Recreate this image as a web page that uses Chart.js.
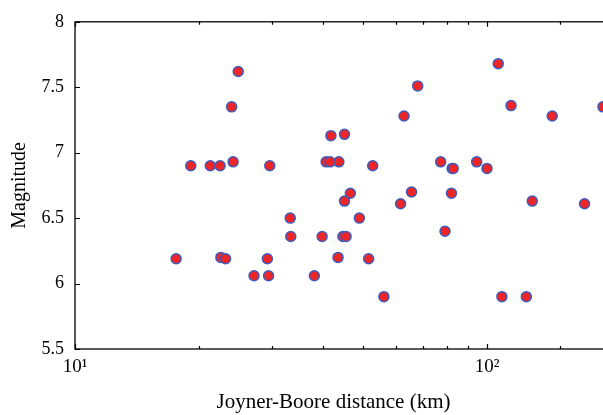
<!DOCTYPE html>
<html><head><meta charset="utf-8">
<script src="https://cdn.jsdelivr.net/npm/chart.js@4.4.1/dist/chart.umd.min.js"></script>
<style>
html,body{margin:0;padding:0;overflow:hidden;background:#fff;width:603px;height:415px}
#wrap{position:absolute;left:0;top:0;width:640px;height:415px}
</style>
</head><body><div id="wrap"><canvas id="c" width="640" height="415"></canvas></div>
<script>
const distances = [17.6, 19.1, 21.3, 22.5, 22.6, 23.2, 24.0, 24.2, 24.9, 27.2, 29.5, 29.3, 29.7, 33.3, 33.4, 38.1, 39.8, 40.7, 41.6, 41.8, 43.5, 43.7, 44.7, 45.1, 45.1, 45.5, 46.6, 49.0, 51.6, 52.8, 56.2, 61.7, 62.9, 65.6, 67.9, 77.2, 79.1, 82.0, 82.3, 82.8, 94.4, 100, 106.5, 108.7, 114.4, 124.6, 128.8, 144, 172.5, 191.2];
const magnitudes = [6.19, 6.90, 6.90, 6.90, 6.20, 6.19, 7.35, 6.93, 7.62, 6.06, 6.06, 6.19, 6.90, 6.50, 6.36, 6.06, 6.36, 6.93, 6.93, 7.13, 6.20, 6.93, 6.36, 7.14, 6.63, 6.36, 6.69, 6.50, 6.19, 6.90, 5.90, 6.61, 7.28, 6.70, 7.51, 6.93, 6.40, 6.69, 6.88, 6.88, 6.93, 6.88, 7.68, 5.90, 7.36, 5.90, 6.63, 7.28, 6.61, 7.35];
const xTickLabels = {10: '10\u00B9', 100: '10\u00B2'};
const xTitle = 'Joyner-Boore distance (km)';
const yTitle = 'Magnitude';
const xRange = [10, 200];
const yRange = [5.5, 8];

const FONT = "'Liberation Serif', 'Times New Roman', serif";

const boxTicks = {
  id: 'boxTicks',
  afterDraw(chart) {
    const ctx = chart.ctx;
    const a = chart.chartArea;
    const xs = chart.scales.x, ys = chart.scales.y;
    ctx.save();
    ctx.strokeStyle = '#000';
    ctx.lineWidth = 1.3;
    ctx.strokeRect(a.left, a.top, a.right - a.left, a.bottom - a.top);
    ctx.lineWidth = 1.2;
    ctx.beginPath();
    xs.ticks.forEach(t => {
      const px = Math.round(xs.getPixelForValue(t.value)) + 0.5;
      const major = xTickLabels[t.value] !== undefined;
      const len = major ? 5 : 3;
      ctx.moveTo(px, a.bottom); ctx.lineTo(px, a.bottom - len);
      ctx.moveTo(px, a.top); ctx.lineTo(px, a.top + len);
    });
    ys.ticks.forEach(t => {
      const py = Math.round(ys.getPixelForValue(t.value)) + 0.5;
      ctx.moveTo(a.left, py); ctx.lineTo(a.left + 5, py);
      ctx.moveTo(a.right, py); ctx.lineTo(a.right - 5, py);
    });
    ctx.stroke();
    // x axis title
    ctx.fillStyle = '#000';
    ctx.font = "21px " + FONT;
    ctx.textAlign = 'center';
    ctx.textBaseline = 'alphabetic';
    ctx.fillText(xTitle, 333.5, 408);
    ctx.restore();
  }
};

new Chart(document.getElementById('c'), {
  type: 'scatter',
  data: {
    datasets: [{
      label: 'Events',
      data: distances.map((d, i) => ({x: d, y: magnitudes[i]})),
      pointRadius: 5,
      pointHoverRadius: 5,
      backgroundColor: '#ee2526',
      borderColor: '#3f5cbc',
      borderWidth: 1.5
    }]
  },
  options: {
    responsive: false,
    animation: false,
    events: [],
    layout: {padding: {top: 13, right: 29, left: 0, bottom: 0}},
    plugins: {legend: {display: false}, tooltip: {enabled: false}},
    scales: {
      x: {
        type: 'logarithmic',
        min: xRange[0], max: xRange[1],
        afterFit(s) { s.height = 66; },
        grid: {display: false, drawTicks: false},
        border: {display: false},
        ticks: {
          autoSkip: false, maxRotation: 0, minRotation: 0,
          padding: 7, color: '#000',
          font: {family: FONT, size: 19},
          callback: (v) => xTickLabels[v] !== undefined ? xTickLabels[v] : ''
        },
        title: {display: false}
      },
      y: {
        min: yRange[0], max: yRange[1],
        afterFit(s) { s.width = 75; },
        grid: {display: false, drawTicks: false},
        border: {display: false},
        ticks: {
          stepSize: 0.5, padding: 11, color: '#000',
          font: {family: FONT, size: 18},
          callback: (v) => String(v)
        },
        title: {display: true, text: yTitle, color: '#000',
          font: {family: FONT, size: 20}, padding: {top: 8, bottom: 0}}
      }
    }
  },
  plugins: [boxTicks]
});
</script>
</body></html>
